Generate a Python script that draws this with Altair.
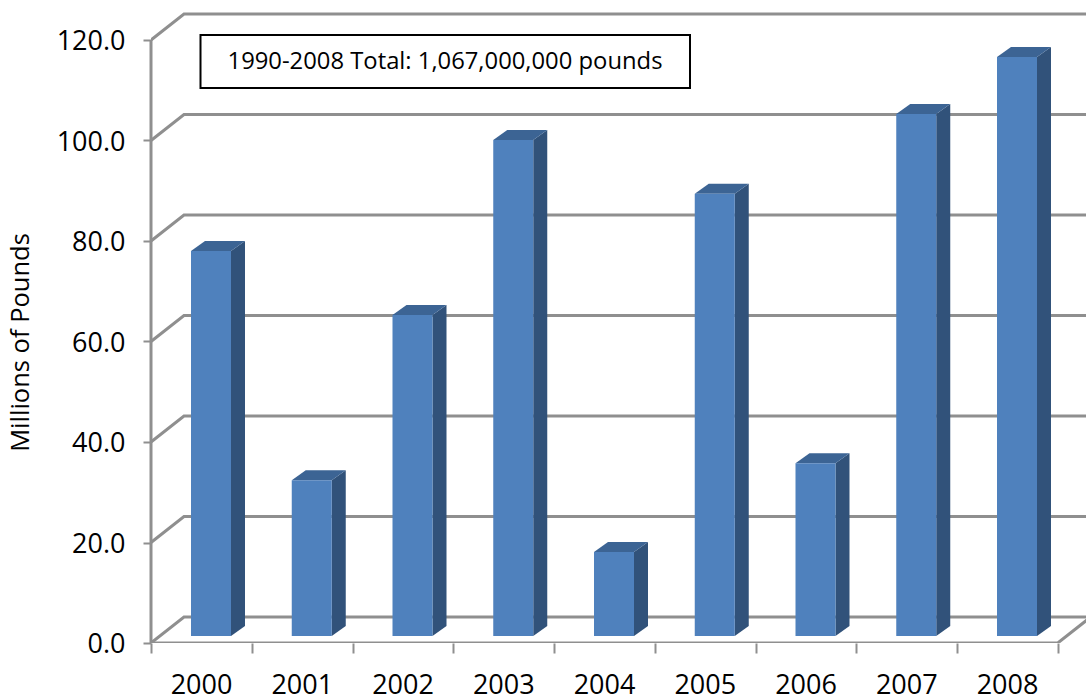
import altair as alt
import pandas as pd

years = [2000, 2001, 2002, 2003, 2004, 2005, 2006, 2007, 2008]
pounds = [76.6, 31.0, 63.9, 98.7, 16.7, 88.0, 34.4, 103.9, 115.2]
y_ticks = [0, 20, 40, 60, 80, 100, 120]
x_edges = [1999.5 + i for i in range(10)]

FONT = "Open Sans"
GRID = "#8f8f8f"
FRONT = "#4f81bd"
TOP = "#3c6494"
SIDE = "#31527a"

# Plot size and the scale factors that turn data units into the oblique 3-D look
W, H = 935, 643
PX_PER_YEAR = 100.75
PX_PER_UNIT = 5.025
x_domain = [1999.5, 1999.5 + W / PX_PER_YEAR]
y_domain = [0, H / PX_PER_UNIT]

wall_dx = 33 / PX_PER_YEAR
wall_dy = 26 / PX_PER_UNIT
bar_gap = 40 / PX_PER_YEAR
bar_w = 40 / PX_PER_YEAR
bar_dx = 14 / PX_PER_YEAR
bar_dy = 10 / PX_PER_UNIT
bar_base = 7 / PX_PER_UNIT

x_scale = alt.Scale(domain=x_domain, nice=False, zero=False)
y_scale = alt.Scale(domain=y_domain, nice=False)

# Receding gridlines: short diagonal on the side wall, then along the back wall
grid_rows = []
for v in y_ticks:
    grid_rows += [
        {"level": v, "x": x_edges[0], "y": v},
        {"level": v, "x": x_edges[0] + wall_dx, "y": v + wall_dy},
        {"level": v, "x": x_domain[1], "y": v + wall_dy},
    ]
# Front and right edges of the floor
floor_rows = [
    {"level": -1, "x": x_edges[0], "y": 0},
    {"level": -1, "x": x_edges[-1], "y": 0},
    {"level": -1, "x": x_edges[-1] + wall_dx, "y": wall_dy},
]
grid_df = pd.DataFrame(grid_rows + floor_rows)

grid = (
    alt.Chart(grid_df)
    .mark_line(color=GRID, strokeWidth=3, clip=True)
    .encode(
        x=alt.X(
            "x:Q",
            scale=x_scale,
            title=None,
            axis=alt.Axis(
                values=x_edges,
                domain=False,
                grid=False,
                ticks=True,
                tickColor=GRID,
                tickWidth=2,
                tickSize=10,
                labelOffset=50,
                labelPadding=19,
                labelBound=False,
                labelFlush=False,
                labelOverlap=False,
                labelFont=FONT,
                labelFontSize=27,
                labelColor="black",
                labelExpr="datum.value < 2008 ? format(datum.value + 0.5, 'd') : ''",
            ),
        ),
        y=alt.Y(
            "y:Q",
            scale=y_scale,
            axis=alt.Axis(
                values=y_ticks,
                format=".1f",
                domain=False,
                grid=False,
                tickColor=GRID,
                tickWidth=2,
                tickSize=8,
                labelPadding=18,
                labelOffset=1.5,
                labelFont=FONT,
                labelFontSize=27,
                labelColor="black",
                title="Millions of Pounds",
                titleFont=FONT,
                titleFontSize=25.5,
                titleFontWeight="normal",
                titleColor="black",
                titleX=-118,
                titleY=342,
            ),
        ),
        detail="level:N",
    )
)

# Vertical axis line
axis_line = (
    alt.Chart(pd.DataFrame({"x": [x_edges[0]], "lo": [y_ticks[0]], "hi": [y_ticks[-1]]}))
    .mark_rule(color=GRID, strokeWidth=3)
    .encode(
        x=alt.X("x:Q", scale=x_scale),
        y=alt.Y("lo:Q", scale=y_scale),
        y2="hi:Q",
    )
)

left = [y - 0.5 + bar_gap for y in years]
bars = pd.DataFrame(
    {
        "year": years,
        "x0": left,
        "x1": [x + bar_w for x in left],
        "base": [bar_base] * len(years),
        "top": [p + bar_base for p in pounds],
    }
)

front = (
    alt.Chart(bars)
    .mark_rect(color=FRONT)
    .encode(
        x=alt.X("x0:Q", scale=x_scale),
        x2="x1:Q",
        y=alt.Y("base:Q", scale=y_scale),
        y2="top:Q",
    )
)

# Right-hand face of each bar, as a two-point area between its slanted edges
side_rows = []
for _, b in bars.iterrows():
    side_rows += [
        {"year": b.year, "x": b.x1, "lo": b.base, "hi": b.top},
        {"year": b.year, "x": b.x1 + bar_dx, "lo": b.base + bar_dy, "hi": b.top + bar_dy},
    ]
side = (
    alt.Chart(pd.DataFrame(side_rows))
    .mark_area(color=SIDE, opacity=1)
    .encode(
        x=alt.X("x:Q", scale=x_scale),
        y=alt.Y("lo:Q", scale=y_scale),
        y2="hi:Q",
        detail="year:N",
    )
)

# Top face of each bar
top_rows = []
for _, b in bars.iterrows():
    top_rows += [
        {"year": b.year, "y": b.top, "a": b.x0, "b": b.x1},
        {"year": b.year, "y": b.top + bar_dy, "a": b.x0 + bar_dx, "b": b.x1 + bar_dx},
    ]
top = (
    alt.Chart(pd.DataFrame(top_rows))
    .mark_area(color=TOP, opacity=1, orient="horizontal")
    .encode(
        y=alt.Y("y:Q", scale=y_scale),
        x=alt.X("a:Q", scale=x_scale),
        x2="b:Q",
        detail="year:N",
    )
)

# Total annotation box
note_box = (
    alt.Chart(pd.DataFrame({"k": [0]}))
    .mark_rect(fill="white", stroke="black", strokeWidth=2)
    .encode(x=alt.value(49.5), x2=alt.value(539), y=alt.value(35), y2=alt.value(88))
)
note_text = (
    alt.Chart(pd.DataFrame({"label": ["1990-2008 Total: 1,067,000,000 pounds"]}))
    .mark_text(font=FONT, fontSize=23.8, color="black", align="center", baseline="middle")
    .encode(text="label:N", x=alt.value(294), y=alt.value(61.5))
)

chart = (
    alt.layer(grid, axis_line, side, top, front, note_box, note_text)
    .properties(
        width=W,
        height=H,
        padding={"left": 151, "top": 0, "right": 0, "bottom": 53},
        autosize=alt.AutoSizeParams(type="none"),
        background="white",
    )
    .configure_view(stroke=None)
)

chart.save("out.html", embed_options={"renderer": "svg", "actions": False})
